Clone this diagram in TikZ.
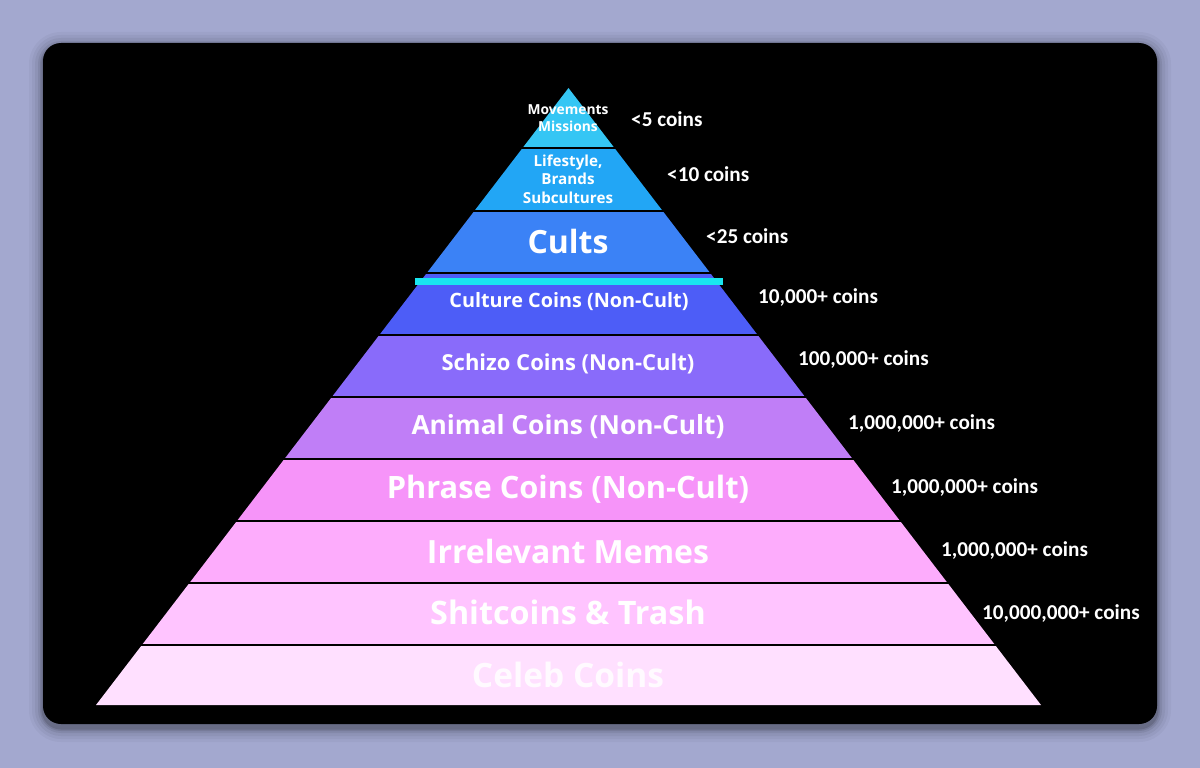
\documentclass[tikz,border=0pt]{standalone}
\usepackage{fontspec}
\newfontfamily\pyrfont{Open Sans}
\newfontfamily\calfont{Carlito}
\definecolor{bgl}{RGB}{163,168,207}
\definecolor{cMov}{RGB}{53,198,244}
\definecolor{cLife}{RGB}{34,166,245}
\definecolor{cCult}{RGB}{59,130,246}
\definecolor{cCulture}{RGB}{77,93,247}
\definecolor{cSchizo}{RGB}{137,107,250}
\definecolor{cAnimal}{RGB}{192,126,247}
\definecolor{cPhrase}{RGB}{246,148,249}
\definecolor{cIrr}{RGB}{253,172,252}
\definecolor{cShit}{RGB}{255,196,255}
\definecolor{cCeleb}{RGB}{255,224,255}
\definecolor{cBar}{RGB}{25,230,240}
\newcommand\pyrlayer[3]{%
  \fill[#3] ({568.5-(#1-88)*0.7658},#1) -- ({568.5+(#1-88)*0.7658},#1) --
    ({568.5+(#2-88)*0.7658},#2) -- ({568.5-(#2-88)*0.7658},#2) -- cycle;}
\newcommand\pyrsep[1]{%
  \draw[sepline] ({568.5-(#1-88)*0.7658-3},#1) -- ({568.5+(#1-88)*0.7658+3},#1);}
\tikzset{
  sepline/.style={black,line width=2pt},
  lbl/.style={text=white,font=\pyrfont\bfseries,align=center,inner sep=0pt},
  cnt/.style={text=white,font=\calfont\bfseries\fontsize{21.2}{24}\selectfont,anchor=west,inner sep=0pt},
}
\begin{document}
\begin{tikzpicture}[x=1pt,y=-1pt]
\useasboundingbox (0,0) rectangle (1200,768);
\fill[bgl] (0,0) rectangle (1200,768);
% shadow
\foreach \i/\o in {14/0.03,11/0.04,8/0.05,5/0.07,3/0.09,1.5/0.12}{
  \fill[black,opacity=\o,rounded corners={18+\i}] ({43-\i},{43-\i+3}) rectangle ({1157+\i},{724+\i+4});
}
\fill[black,rounded corners=18] (43,43) rectangle (1157,724);
% layers
\pyrlayer{88}{148}{cMov}
\pyrlayer{148}{211}{cLife}
\pyrlayer{211}{273}{cCult}
\pyrlayer{273}{335}{cCulture}
\pyrlayer{335}{397}{cSchizo}
\pyrlayer{397}{459}{cAnimal}
\pyrlayer{459}{521}{cPhrase}
\pyrlayer{521}{583}{cIrr}
\pyrlayer{583}{645}{cShit}
\pyrlayer{645}{705}{cCeleb}
\foreach \y in {148,211,273,335,397,459,521,583,645}{\pyrsep{\y}}
\fill[cBar] (415,278) rectangle (723,285);
% labels
\node[lbl,font=\pyrfont\bfseries\fontsize{13.8}{17}\selectfont] (mov) at (568,118) {Movements\\Missions};
\node[lbl,font=\pyrfont\bfseries\fontsize{15.2}{18.5}\selectfont] (life) at (568,179) {Lifestyle,\\Brands\\Subcultures};
\node[lbl,font=\pyrfont\bfseries\fontsize{32}{34}\selectfont] (cults) at (568,241) {Cults};
\node[lbl,font=\pyrfont\bfseries\fontsize{19.8}{22}\selectfont] (culture) at (569,302) {Culture Coins (Non-Cult)};
\node[lbl,font=\pyrfont\bfseries\fontsize{22}{24}\selectfont] (schizo) at (568,364) {Schizo Coins (Non-Cult)};
\node[lbl,font=\pyrfont\bfseries\fontsize{26.3}{28}\selectfont] (animal) at (568,427) {Animal Coins (Non-Cult)};
\node[lbl,font=\pyrfont\bfseries\fontsize{30.8}{32}\selectfont] (phrase) at (568,489) {Phrase Coins (Non-Cult)};
\node[lbl,font=\pyrfont\bfseries\fontsize{32}{34}\selectfont] (irr) at (568,551) {Irrelevant Memes};
\node[lbl,font=\pyrfont\bfseries\fontsize{32.3}{34}\selectfont] (shit) at (568,612) {Shitcoins \& Trash};
\node[lbl,text=white!85!cCeleb,font=\pyrfont\bfseries\fontsize{33.5}{36}\selectfont] (celeb) at (568,675) {Celeb Coins};
% counts
\node[cnt] (n1) at (631,119) {<5 coins};
\node[cnt] (n2) at (667,174) {<10 coins};
\node[cnt] (n3) at (706,236) {<25 coins};
\node[cnt] (n4) at (758,297) {10,000+ coins};
\node[cnt] (n5) at (798,359) {100,000+ coins};
\node[cnt] (n6) at (848,423) {1,000,000+ coins};
\node[cnt] (n7) at (891,487) {1,000,000+ coins};
\node[cnt] (n8) at (941,550) {1,000,000+ coins};
\node[cnt] (n9) at (982,613) {10,000,000+ coins};
\end{tikzpicture}
\end{document}
